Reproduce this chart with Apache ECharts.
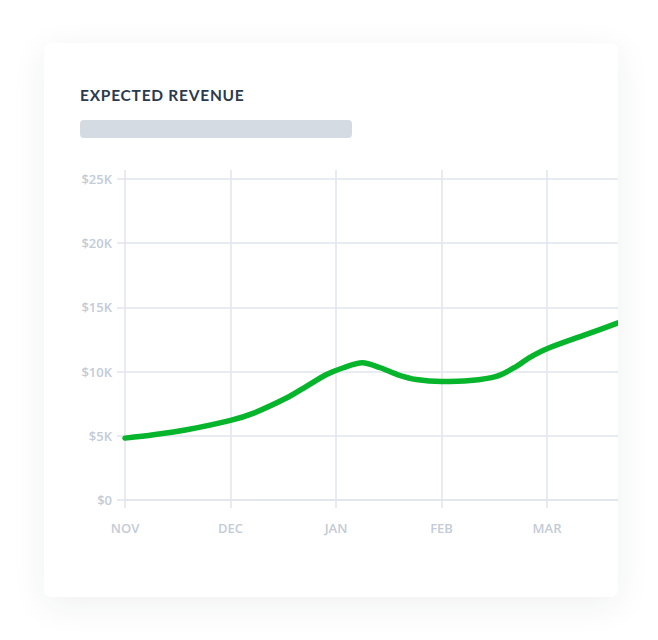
<!DOCTYPE html>
<html>
<head>
<meta charset="utf-8">
<script src="https://cdn.jsdelivr.net/npm/echarts@6/dist/echarts.min.js"></script>
<style>
  html, body { margin: 0; padding: 0; background: #ffffff; width: 658px; height: 640px; overflow: hidden; }
  #card {
    position: absolute; left: 44px; top: 43px; width: 574px; height: 554px;
    background: #ffffff; border-radius: 7px; overflow: hidden;
    box-shadow: 0 8px 36px rgba(30, 40, 60, 0.07);
  }
  #title {
    position: absolute; left: 36px; top: 43px; margin: 0;
    font-family: Lato, sans-serif; font-weight: bold; font-size: 15.5px; line-height: 18px;
    letter-spacing: 0.75px; color: #2b3a4c; white-space: nowrap;
  }
  #chart { position: absolute; left: 0; top: 0; width: 620px; height: 554px; }
</style>
</head>
<body>
<div id="card"><div id="chart"></div><div id="title"></div></div>
<script>
const titleText = 'EXPECTED REVENUE';
const monthLabels = ['NOV', 'DEC', 'JAN', 'FEB', 'MAR'];
// position in months since NOV, and expected revenue (USD)
const monthPos = [0, 0.27, 0.585, 1, 1.22, 1.53, 1.72, 1.91, 2.07, 2.25, 2.42, 2.58, 2.76, 3, 3.27, 3.52, 3.71, 3.83, 4, 4.34, 4.66, 5];
const revenue = [4820, 5080, 5470, 6200, 6770, 7940, 8850, 9770, 10300, 10680, 10300, 9770, 9380, 9220, 9300, 9630, 10400, 11070, 11780, 12800, 13750, 14800];

document.getElementById('title').textContent = titleText;

const gridColor = '#e1e5ec';
const labelColor = '#c3cbd6';

const chart = echarts.init(document.getElementById('chart'), null, { renderer: 'svg' });
chart.setOption({
  animation: false,
  graphic: [{
    type: 'rect', left: 36, top: 77,
    shape: { width: 272, height: 18, r: 4 },
    style: { fill: '#d5dbe3' }
  }],
  grid: { left: 81, right: 11.5, top: 136, bottom: 97 },
  xAxis: [{
    type: 'value', min: 0, max: 5, interval: 1, position: 'bottom',
    axisLine: { show: true, lineStyle: { color: gridColor, width: 1.5 } },
    axisTick: { show: true, length: 8, lineStyle: { color: gridColor, width: 1.5 } },
    axisLabel: {
      margin: 21, color: labelColor, fontFamily: 'Open Sans', fontSize: 13, fontWeight: 600,
      formatter: v => monthLabels[Math.round(v)] || ''
    },
    splitLine: { show: true, lineStyle: { color: gridColor, width: 1.5 } }
  }, {
    type: 'value', min: 0, max: 5, interval: 1, position: 'top',
    axisLine: { show: false },
    axisTick: { show: true, length: 9, lineStyle: { color: gridColor, width: 1.5 } },
    axisLabel: { show: false },
    splitLine: { show: false }
  }],
  yAxis: {
    type: 'value', min: 0, max: 25000, interval: 5000,
    axisLine: { show: false },
    axisTick: { show: true, length: 8, lineStyle: { color: gridColor, width: 1.5 } },
    axisLabel: {
      margin: 13, color: labelColor, fontFamily: 'Open Sans', fontSize: 13, fontWeight: 600,
      formatter: v => v === 0 ? '$0' : '$' + (v / 1000) + 'K'
    },
    splitLine: { show: true, lineStyle: { color: gridColor, width: 1.5 } }
  },
  series: [{
    type: 'line', xAxisIndex: 0,
    data: monthPos.map((x, i) => [x, revenue[i]]),
    smooth: 0.3, showSymbol: false, clip: false,
    lineStyle: { color: '#06b52b', width: 5.5, cap: 'round', join: 'round' }
  }]
});
</script>
</body>
</html>
